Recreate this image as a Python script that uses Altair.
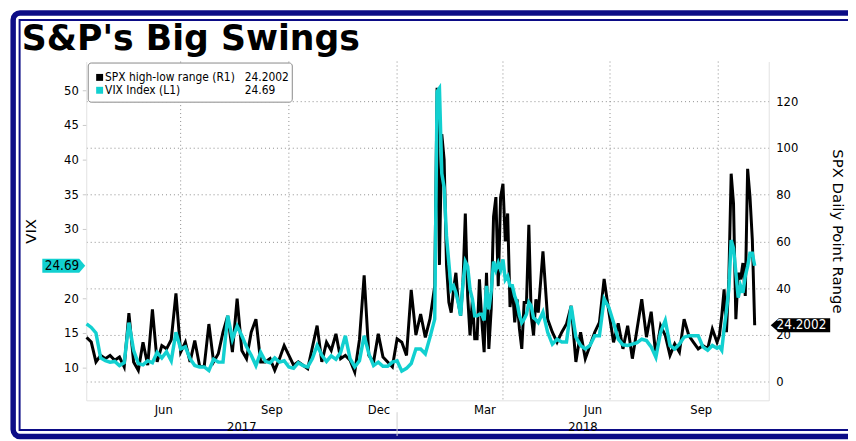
import altair as alt
import pandas as pd

title_text = "S&P's Big Swings"
spx_name = "SPX high-low range (R1)"
vix_name = "VIX Index  (L1)"
left_title = "VIX"
right_title = "SPX Daily Point Range"

# sampled segments: start date and spacing (days) of each run of readings
seg_start = ["2017-04-12", "2018-02-04", "2018-05-01", "2018-09-30"]
seg_step_days = [4, 2, 4, 2]

spx_seg1 = [19, 17, 8.5, 11.3, 9.9, 11.3, 9.2, 10.6, 6.4, 29.4,
            8.5, 4.9, 16.9, 7.1, 31, 8.5, 15.5, 14.1, 18, 37.8,
            12.7, 16.9, 8.5, 17.6, 7.1, 6.5, 24.7, 8.5, 12, 21.2,
            28.2, 12.7, 35.6, 13.4, 9.9, 21.2, 26.8, 8.5, 8.5, 9.9,
            4.9, 9.9, 15.5, 11.3, 7.1, 8.5, 7.1, 5.6, 14.8, 24.0,
            8.5, 16.9, 13.4, 20.5, 9.9, 11.3, 9.2, 4.2, 18, 45.5,
            11.3, 8.5, 20.5, 10.6, 8.5, 6.4, 18.4, 16.9, 11.3, 39.3,
            20, 29, 19, 27, 41]
spx_seg2 = [125.7, 50, 105.9, 95, 50, 34, 29.6, 39.5, 46.6, 33.9,
            28.2, 42.4, 72, 36.7, 19.8, 35.3, 18.4, 18.4, 43.8, 26.1,
            12.7, 46.6, 14.1, 31.1, 70.6, 79, 40.9, 79, 84.7, 60,
            72, 32, 40.9, 25.4, 35.3, 22.6, 14.1, 33.9, 33.9, 67.1,
            28.2, 19.8, 35.3]
spx_seg3 = [29.6, 55.8, 26.8, 21.2, 16.9, 21.2, 24.7, 32.5, 8.5, 21.2, 9.9, 15.5,
            21.2, 25.4, 44, 30, 16.9, 25, 14.1, 24, 9.9, 22.6, 35.3, 19.1, 30,
            11.3, 24, 19.8, 11.3, 16.2, 12.7, 26.8, 19.8, 16.9, 14.1, 15.5, 14.1, 22.6]
spx_seg4 = [16.9, 19.8, 28.2, 39.5, 21.2, 43.8, 89, 76.3, 26.8, 46.6, 43.8, 50.8,
            36.7, 91.1, 79.1, 60.7, 24.2002]

vix_seg1 = [16.3, 15.8, 15.0, 11.4, 11.0, 10.8, 10.9, 10.3, 10.7, 16.5,
            12.5, 10.6, 10.4, 11.0, 10.7, 12.2, 11.4, 12.3, 11.0, 15.1,
            12.7, 13.0, 11.3, 10.3, 10.1, 10.1, 9.6, 11.2, 10.8, 10.8,
            17.5, 14.1, 16.0, 14.6, 13.0, 11.8, 10.3, 12.2, 10.9, 10.7,
            11.4, 10.8, 11.0, 10.1, 9.9, 10.7, 10.3, 10.1, 11.3, 13.2,
            11.8, 10.9, 11.7, 11.2, 12.2, 14.6, 11.3, 10.1, 11.0, 14.6,
            12.0, 10.3, 10.8, 10.2, 10.2, 10.8, 11.0, 9.5, 9.9, 10.6,
            12.7, 12.7, 12.0, 14.4, 17.0]
vix_seg2 = [49.8, 50.3, 38, 36, 29, 25.1, 21.3, 21.8, 20.8, 19.4,
            17.5, 22.2, 25.3, 24.6, 21.3, 19.9, 17.5, 17.5, 17.7, 17.7,
            16.8, 21.8, 18.4, 21.0, 25.3, 24.1, 25.1, 24.1, 25.6, 22.7,
            23.2, 21.8, 21.8, 20.3, 19.4, 17.5, 16.5, 17.0, 17.7, 19.4,
            18.9, 17.2, 16.9]
vix_seg3 = [16.5, 18.0, 15.1, 13.4, 14.1, 13.7, 13.7, 18.9, 14.4, 13.2, 12.7, 13.2,
            14.6, 14.6, 19.9, 18.7, 16.5, 14.1, 13.3, 13.2, 13.4, 13.6, 14.1, 13.9, 13.0,
            11.5, 15.1, 16.8, 13.2, 12.7, 13.4, 14.4, 14.6, 14.6, 14.6, 13.0, 12.5, 13.2]
vix_seg4 = [12.8, 13.0, 12.5, 15.6, 18.2, 21.3, 28.4, 27.2, 23.7, 20.1, 21.8, 20.8,
            23.2, 24.6, 26.5, 26.5, 24.69]

# left-axis labels shown (25 sits under the last-value tag)
vix_ticks = [10, 15, 20, 30, 35, 40, 45, 50]
spx_ticks = [0, 20, 40, 60, 80, 100, 120]
month_label_dates = [(2017, 6), (2017, 9), (2017, 12), (2018, 3), (2018, 6), (2018, 9)]
quarter_dates = ["2017-07-01", "2017-10-01", "2018-01-01", "2018-04-01", "2018-07-01", "2018-10-01"]
year_labels = ["2017", "2018"]
year_label_dates = ["2017-08-22", "2018-06-08"]
year_break_dates = ["2018-01-01"]

# ---- build table ----
spx_segments = [spx_seg1, spx_seg2, spx_seg3, spx_seg4]
vix_segments = [vix_seg1, vix_seg2, vix_seg3, vix_seg4]
dates = []
for start, step, seg in zip(seg_start, seg_step_days, spx_segments):
    dates.extend(pd.date_range(start, periods=len(seg), freq=f"{step}D"))
df = pd.DataFrame({
    "date": dates,
    "spx": sum(spx_segments, []),
    "vix": sum(vix_segments, []),
})
spx_last = df["spx"].iloc[-1]
vix_last = df["vix"].iloc[-1]
last_df = pd.DataFrame({"spx": [spx_last], "vix": [vix_last],
                        "spx_txt": [f"{spx_last:g}"], "vix_txt": [f"{vix_last:g}"]})
quarter_df = pd.DataFrame({"date": pd.to_datetime(quarter_dates)})
year_df = pd.DataFrame({"date": pd.to_datetime(year_label_dates), "label": year_labels})
yb_df = pd.DataFrame({"date": pd.to_datetime(year_break_dates)})
one = pd.DataFrame({"k": [0]})

W, H = 689, 342
FONT = "DejaVu Sans Condensed"
NAVY = "#0c0c86"
CYAN = "#12d0d0"

x_dom = [alt.DateTime(year=2017, month=4, date=11, hours=18),
         alt.DateTime(year=2018, month=11, date=12, hours=23)]
x_axis = alt.Axis(values=[alt.DateTime(year=y, month=m, date=1) for y, m in month_label_dates],
                  format="%b", labelOffset=18, ticks=False, grid=False, domainColor="#e2e2e2",
                  labelFont=FONT, labelFontSize=13, labelColor="#000", labelPadding=3,
                  title=None, labelFlush=False, labelOverlap=False)
x_enc = alt.X("date:T", scale=alt.Scale(domain=x_dom), axis=x_axis)

spx_scale = alt.Scale(domain=[-7.92, 136.95], nice=False, zero=False)
vix_scale = alt.Scale(domain=[5.29, 54.14], nice=False, zero=False)

frame_outer = alt.Chart(one).mark_rect(fillOpacity=0, stroke=NAVY, strokeWidth=5.5, cornerRadius=7).encode(
    x=alt.value(-73.8), x2=alt.value(W + 120), y=alt.value(-49), y2=alt.value(378.5))
frame_inner = alt.Chart(one).mark_rect(fillOpacity=0, stroke=NAVY, strokeWidth=2).encode(
    x=alt.value(-67.3), x2=alt.value(W + 120), y=alt.value(-42), y2=alt.value(372))

title_mark = alt.Chart(one).mark_text(text=title_text, align="left", baseline="alphabetic",
                                      font="DejaVu Sans", fontWeight="bold", fontSize=35,
                                      color="#000").encode(x=alt.value(-65), y=alt.value(-12))

qrules = alt.Chart(quarter_df).mark_rule(color="#8c8c8c", strokeDash=[1, 3], strokeWidth=1).encode(x=x_enc)

black_line = alt.Chart(df).mark_line(color="#000", strokeWidth=3).encode(
    x=x_enc,
    y=alt.Y("spx:Q", scale=spx_scale, axis=alt.Axis(
        orient="right", values=spx_ticks, grid=True, gridDash=[1, 3], gridColor="#8c8c8c",
        ticks=False, labelPadding=7, domainColor="#e2e2e2", labelFont=FONT, labelFontSize=13,
        labelColor="#000", title=right_title, titleFont="DejaVu Sans", titleFontSize=15,
        titleFontWeight="normal", titleAngle=90, titleX=69, titleY=171, titleBaseline="middle",
        titleAlign="center", titleColor="#000")))

cyan_line = alt.Chart(df).mark_line(color=CYAN, strokeWidth=3.5).encode(
    x=x_enc,
    y=alt.Y("vix:Q", scale=vix_scale, axis=alt.Axis(
        orient="left", values=vix_ticks, grid=False, tickSize=4,
        tickColor="#c8c8c8", labelPadding=4, domainColor="#e2e2e2", labelFont=FONT,
        labelFontSize=13, labelColor="#000", title=left_title, titleFont="DejaVu Sans",
        titleFontSize=15, titleFontWeight="normal", titleAngle=270, titleX=-56, titleY=171,
        titleBaseline="middle", titleAlign="center", titleColor="#000")))

year_text = alt.Chart(year_df).mark_text(font=FONT, fontSize=13, color="#000", baseline="middle").encode(
    x=x_enc, y=alt.value(H + 27), text="label:N")
year_rule = alt.Chart(yb_df).mark_rule(color="#d0d0d0", strokeWidth=1).encode(
    x=x_enc, y=alt.value(H + 12), y2=alt.value(H + 36))

black_tag = alt.Chart(last_df).mark_point(
    shape="M-1,0 L-0.73,-0.233 L1,-0.233 L1,0.233 L-0.73,0.233 Z",
    filled=True, fill="#000", opacity=1, size=3600, strokeWidth=0).encode(
    x=alt.value(W + 32), y=alt.Y("spx:Q", scale=spx_scale, axis=None))
black_tag_text = alt.Chart(last_df).mark_text(font=FONT, fontSize=13.5, color="#fff", baseline="middle").encode(
    x=alt.value(W + 33), y=alt.Y("spx:Q", scale=spx_scale, axis=None), text="spx_txt:N")
cyan_tag = alt.Chart(last_df).mark_point(
    shape="M-1,-0.323 L0.72,-0.323 L1,0 L0.72,0.323 L-1,0.323 Z",
    filled=True, fill=CYAN, opacity=1, size=1876, strokeWidth=0).encode(
    x=alt.value(-22.7), y=alt.Y("vix:Q", scale=vix_scale, axis=None))
cyan_tag_text = alt.Chart(last_df).mark_text(font=FONT, fontSize=13.5, color="#000", baseline="middle").encode(
    x=alt.value(-24.5), y=alt.Y("vix:Q", scale=vix_scale, axis=None), text="vix_txt:N")

legend_box = alt.Chart(one).mark_rect(fill="#fff", stroke="#8a8a8a", strokeWidth=1, cornerRadius=3).encode(
    x=alt.value(2), x2=alt.value(208), y=alt.value(1.5), y2=alt.value(41))
leg_sq1 = alt.Chart(one).mark_square(size=49, color="#000", opacity=1).encode(x=alt.value(13.5), y=alt.value(16))
leg_sq2 = alt.Chart(one).mark_square(size=49, color=CYAN, opacity=1).encode(x=alt.value(13.5), y=alt.value(29))
leg_t1 = alt.Chart(one).mark_text(text=spx_name, align="left", baseline="middle", font=FONT,
                                  fontSize=12, color="#000").encode(x=alt.value(19), y=alt.value(16))
leg_t2 = alt.Chart(one).mark_text(text=vix_name, align="left", baseline="middle", font=FONT,
                                  fontSize=12, color="#000").encode(x=alt.value(19), y=alt.value(29))
leg_v1 = alt.Chart(last_df).mark_text(align="left", baseline="middle", font=FONT,
                                      fontSize=12, color="#000").encode(x=alt.value(160), y=alt.value(16), text="spx_txt:N")
leg_v2 = alt.Chart(last_df).mark_text(align="left", baseline="middle", font=FONT,
                                      fontSize=12, color="#000").encode(x=alt.value(160), y=alt.value(29), text="vix_txt:N")

chart = alt.layer(
    frame_outer, frame_inner, title_mark, qrules, black_line, cyan_line, year_text, year_rule,
    black_tag, black_tag_text, cyan_tag, cyan_tag_text,
    legend_box, leg_sq1, leg_sq2, leg_t1, leg_t2, leg_v1, leg_v2,
).resolve_scale(y="independent").properties(
    width=W, height=H,
    padding={"left": 79, "top": 52, "right": 80, "bottom": 39},
    autosize=alt.AutoSizeParams(type="none"),
    background="#ffffff",
).configure_view(strokeWidth=0)

chart.save("out.html", embed_options={"renderer": "svg", "actions": False})
